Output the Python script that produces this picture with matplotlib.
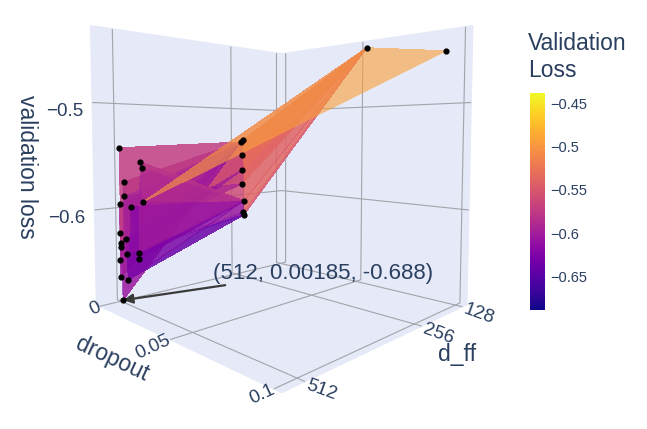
import numpy as np
import matplotlib
matplotlib.use("Agg")
import matplotlib.pyplot as plt
import matplotlib.tri as mtri
from matplotlib import cm, colors, ticker
from mpl_toolkits.mplot3d import proj3d

plt.rcParams['font.family'] = ['Liberation Sans', 'DejaVu Sans']

# ---------------- data ----------------
d_ff = np.array([512] * 19 + [256] * 8 + [128] * 2, dtype=float)
dropout = np.array([
    0.0009, 0.0169, 0.0180, 0.0041, 0.0042, 0.0003, 0.0095, 0.0184, 0.0005, 0.0048,
    0.0007, 0.0010, 0.0057, 0.0153, 0.0148, 0.0002, 0.0004, 0.0063, 0.00185,
    0.0040, 0.0055, 0.0050, 0.0052, 0.0048, 0.0062, 0.0058, 0.0060,
    0.0550, 0.0940,
])
val_loss = np.array([
    -0.542, -0.554, -0.559, -0.574, -0.587, -0.596, -0.596, -0.590, -0.623, -0.628,
    -0.633, -0.637, -0.642, -0.637, -0.643, -0.650, -0.666, -0.666, -0.688,
    -0.538, -0.536, -0.553, -0.569, -0.585, -0.604, -0.617, -0.620,
    -0.4385, -0.4515,
])

x_ticks = [128, 256, 512]
y_ticks = [0, 0.05, 0.1]
y_ticklabels = ['0', '0.05', '0.1']
z_ticks = [-0.6, -0.5]
cbar_ticks = [-0.65, -0.6, -0.55, -0.5, -0.45]

TEXT = '#2a3f5f'
PANE = '#E6E9F7'
GRID = '#A2A4AA'

def minus_fmt(v, pos=None):
    return ('%g' % v).replace('-', '\u2212')

fig = plt.figure(figsize=(6.47, 4.29), dpi=100)
S = 420
CX, CY = 276, 173
ax = fig.add_axes([(CX - S / 2) / 647, (429 - CY - S / 2) / 429, S / 647, S / 429],
                  projection='3d', proj_type='persp', focal_length=0.239)
ax.view_init(elev=3.5, azim=45)
ax.set_box_aspect((1, 1, 1.05), zoom=1.083)
ax.set_facecolor('white')

norm = colors.Normalize(vmin=val_loss.min(), vmax=val_loss.max())

# triangulation in normalised (d_ff, dropout) plane
tri = mtri.Triangulation((d_ff - d_ff.min()) / np.ptp(d_ff),
                         (dropout - dropout.min()) / np.ptp(dropout))
ax.plot_trisurf(d_ff, dropout, val_loss, triangles=tri.triangles, cmap='plasma',
                norm=norm, alpha=0.6, linewidth=0, antialiased=False)
ax.scatter(d_ff, dropout, val_loss, c='black', s=12, depthshade=False, zorder=10)

ax.set_xlim(112, 550)
ax.set_ylim(-0.003, 0.103)
ax.set_zlim(-0.69, -0.43)

for axis in (ax.xaxis, ax.yaxis, ax.zaxis):
    axis.set_pane_color(PANE)
    axis.pane.set_edgecolor(PANE)
    axis._axinfo['grid'].update(color=GRID, linewidth=0.8)
    axis._axinfo['tick'].update(inward_factor=0, outward_factor=0)
    axis.line.set_color((0, 0, 0, 0))

ax.set_xticks(x_ticks)
ax.set_yticks(y_ticks)
ax.set_yticklabels(y_ticklabels)
ax.set_zticks(z_ticks)
ax.zaxis.set_major_formatter(ticker.FuncFormatter(minus_fmt))
ax.tick_params(axis='x', labelsize=13.5, colors=TEXT, pad=-7, labelrotation=-20)
ax.tick_params(axis='y', labelsize=13.5, colors=TEXT, pad=-8, labelrotation=25)
ax.tick_params(axis='z', labelsize=13.5, colors=TEXT)
for t in ax.xaxis.get_major_ticks():
    t.label1.set_horizontalalignment('left')
    t.label1.set_verticalalignment('center')
    t.label1.set_rotation_mode('anchor')
for t in ax.yaxis.get_major_ticks():
    t.label1.set_horizontalalignment('right')
    t.label1.set_verticalalignment('center')
    t.label1.set_rotation_mode('anchor')

ax.zaxis.set_rotate_label(False)
ax.set_zlabel('validation loss', fontsize=16.5, color=TEXT, rotation=-90, labelpad=7)
# horizontal-axis titles placed like the reference layout
fig.text(457 / 647, 1 - 354 / 429, 'd_ff', ha='center', va='center',
         fontsize=16.5, color=TEXT)
fig.text(112 / 647, 1 - 359 / 429, 'dropout', ha='center', va='center',
         fontsize=16.5, color=TEXT, rotation=-25)

# annotation of best point
fig.canvas.draw()
i = int(np.argmin(val_loss))
label = '(%d, %g, %g)' % (d_ff[i], dropout[i], val_loss[i])
x2, y2, _ = proj3d.proj_transform(d_ff[i], dropout[i], val_loss[i], ax.M)
ax.annotate('', xy=(x2, y2), xytext=(102, 15), textcoords='offset pixels',
            arrowprops=dict(arrowstyle='-|>', color='#3a3a3a', lw=1.6, mutation_scale=14,
                            shrinkA=0, shrinkB=0))
ax.annotate(label, xy=(x2, y2), xytext=(90, 27), textcoords='offset pixels',
            ha='left', va='center', fontsize=16, color=TEXT)

# colorbar
cax = fig.add_axes([530 / 647, 119 / 429, 15 / 647, 217 / 429])
sm = cm.ScalarMappable(norm=norm, cmap='plasma')
cb = fig.colorbar(sm, cax=cax)
cb.outline.set_visible(False)
cb.set_ticks(cbar_ticks)
cb.ax.yaxis.set_major_formatter(ticker.FuncFormatter(minus_fmt))
cb.ax.tick_params(length=0, labelsize=10.5, colors=TEXT, pad=4)
fig.text(528 / 647, 1 - 32 / 429, 'Validation\nLoss', ha='left', va='top',
         fontsize=16.5, color=TEXT, linespacing=1.2)

fig.savefig('out.png', dpi=100)
